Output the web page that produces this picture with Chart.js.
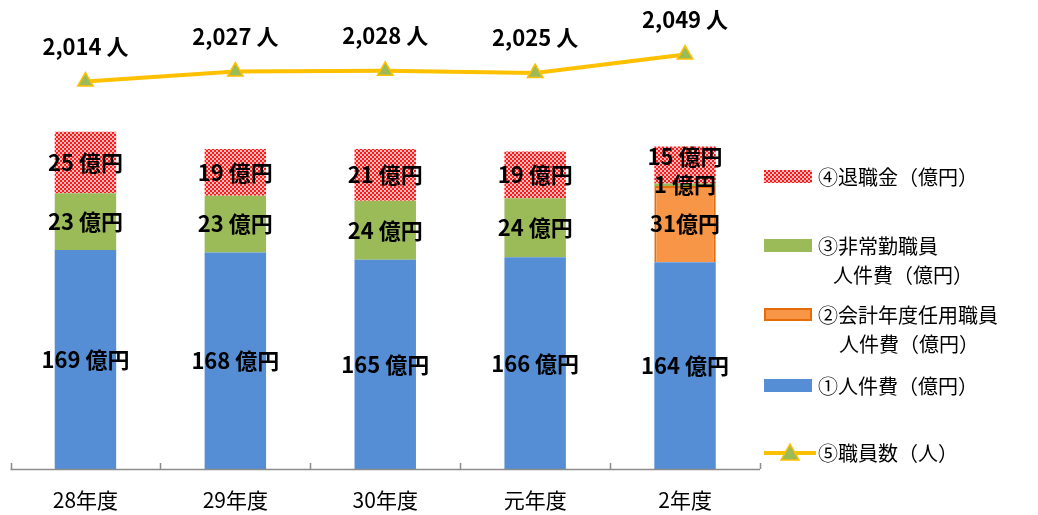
<!DOCTYPE html>
<html lang="ja">
<head>
<meta charset="utf-8">
<script src="https://cdn.jsdelivr.net/npm/chart.js@4/dist/chart.umd.min.js"></script>
<style>
  body { margin: 0; background: #fff; font-family: 'Noto Sans CJK JP', sans-serif; }
  #wrap { position: relative; width: 1038px; height: 515px; }
  #legend { position: absolute; left: 764px; top: 0; font-size: 20px; color: #000; }
  .item { position: absolute; display: flex; align-items: flex-start; white-space: nowrap; }
  .sw { width: 48px; height: 13px; margin-right: 6px; box-sizing: border-box; }
  .txt { line-height: 29px; margin-top: -8px; }
</style>
</head>
<body>
<div id="wrap">
  <canvas id="chart" width="1038" height="515"></canvas>
  <div id="legend"></div>
</div>
<script>
// データ
const years = ['28年度', '29年度', '30年度', '元年度', '2年度'];
const jinkenhi = [169, 168, 165, 166, 164];           // ①人件費(億円)
const kaikeiNendo = [null, null, null, null, 31];     // ②会計年度任用職員人件費(億円)
const hijokin = [23, 23, 24, 24, 1];                  // ③非常勤職員人件費(億円)
const taishokukin = [25, 19, 21, 19, 15];             // ④退職金(億円)
const shokuinsu = [2014, 2027, 2028, 2025, 2049];     // ⑤職員数(人)

const legendNames = {
    taishoku: ['④退職金（億円）'],
    hijokin: ['③非常勤職員', '人件費（億円）'],
    kaikei: ['②会計年度任用職員', '人件費（億円）'],
    jinken: ['①人件費（億円）'],
    shokuin: ['⑤職員数（人）']
};

// 退職金のハッチ模様
function makePattern() {
    const c = document.createElement('canvas');
    c.width = 4; c.height = 4;
    const g = c.getContext('2d');
    g.fillStyle = '#ffffff';
    g.fillRect(0, 0, 4, 4);
    g.fillStyle = '#ff1a1a';
    g.fillRect(0, 0, 2, 2);
    g.fillRect(2, 2, 2, 2);
    g.fillStyle = 'rgba(255,60,60,0.35)';
    g.fillRect(2, 0, 2, 2);
    g.fillRect(0, 2, 2, 2);
    return c;
}
const patCanvas = makePattern();
const ctx = document.getElementById('chart').getContext('2d');
const redPattern = ctx.createPattern(patCanvas, 'repeat');

// 棒・折れ線のラベルを描くプラグイン
const labelPlugin = {
    id: 'labels',
    afterDatasetsDraw(chart) {
        const c = chart.ctx;
        const bottom = chart.chartArea.bottom;
        c.save();
        c.fillStyle = '#000';
        c.textAlign = 'center';
        c.textBaseline = 'middle';
        c.font = "bold 22px 'Noto Sans CJK JP'";
        chart.data.datasets.forEach((ds, di) => {
            const meta = chart.getDatasetMeta(di);
            meta.data.forEach((el, i) => {
                const v = ds.data[i];
                if (v == null) return;
                if (ds.type === 'line') {
                    c.fillText(v.toLocaleString('en-US') + ' 人', el.x, el.y - 35);
                } else {
                    let y = (el.y + Math.min(el.base, bottom)) / 2;
                    if (ds.nudge && ds.nudge[i]) y += ds.nudge[i];
                    const sep = ds.noSpace ? '' : ' ';
                    c.fillText(v + sep + '億円', el.x, y);
                }
            });
        });
        c.restore();
    }
};

// 軸の目盛り（上向き）
const tickPlugin = {
    id: 'ticksUp',
    afterDraw(chart) {
        const area = chart.chartArea, c = chart.ctx;
        c.save();
        c.strokeStyle = '#8c8c8c';
        c.lineWidth = 1.5;
        c.beginPath();
        c.moveTo(area.left, area.bottom + 0.5);
        c.lineTo(area.right, area.bottom + 0.5);
        const step = (area.right - area.left) / years.length;
        for (let i = 0; i <= years.length; i++) {
            const px = Math.round(area.left + step * i) + 0.5;
            c.moveTo(px, area.bottom);
            c.lineTo(px, area.bottom - 6);
        }
        c.stroke();
        c.restore();
    }
};

new Chart(ctx, {
    data: {
        labels: years,
        datasets: [
            {
                type: 'line',
                label: '⑤職員数(人)',
                data: shokuinsu,
                yAxisID: 'y2',
                borderColor: '#ffc000',
                borderWidth: 4,
                pointStyle: 'triangle',
                pointRadius: 9,
                pointBackgroundColor: '#9bbb59',
                pointBorderColor: '#ffc000',
                pointBorderWidth: 1.5,
                tension: 0,
                order: 0
            },
            {
                type: 'bar',
                label: '①人件費(億円)',
                data: jinkenhi,
                backgroundColor: '#558ed5',
                stack: 's',
                order: 1
            },
            {
                type: 'bar',
                label: '②会計年度任用職員人件費(億円)',
                data: kaikeiNendo,
                backgroundColor: '#f79646',
                borderColor: '#e46c0a',
                borderWidth: 2,
                noSpace: true,
                stack: 's',
                order: 1
            },
            {
                type: 'bar',
                label: '③非常勤職員人件費(億円)',
                data: hijokin,
                backgroundColor: '#9bbb59',
                stack: 's',
                order: 1
            },
            {
                type: 'bar',
                label: '④退職金(億円)',
                data: taishokukin,
                backgroundColor: redPattern,
                nudge: [0, 0, 0, 0, -8],
                stack: 's',
                order: 1
            }
        ]
    },
    options: {
        responsive: false,
        animation: false,
        layout: { padding: { top: 26, left: 10, right: 278, bottom: 0 } },
        datasets: { bar: { barPercentage: 0.41, categoryPercentage: 1 } },
        plugins: {
            legend: { display: false },
            tooltip: { enabled: false }
        },
        scales: {
            x: {
                stacked: true,
                grid: { display: false, drawTicks: false },
                border: { display: false },
                afterFit(scale) { scale.height = 46; },
                ticks: {
                    color: '#000',
                    padding: 18,
                    font: { size: 21, family: "'Noto Sans CJK JP'" }
                }
            },
            y: {
                stacked: true,
                display: false,
                min: 80,
                max: 260
            },
            y2: {
                display: false,
                position: 'right',
                min: 1512,
                max: 2086
            }
        }
    },
    plugins: [labelPlugin, tickPlugin]
});

// 凡例（HTML）
const legendEl = document.getElementById('legend');
function addItem(top, swatchStyle, lines, indent) {
    const item = document.createElement('div');
    item.className = 'item';
    item.style.top = top + 'px';
    const sw = document.createElement('div');
    sw.className = 'sw';
    Object.assign(sw.style, swatchStyle);
    const txt = document.createElement('div');
    txt.className = 'txt';
    txt.innerHTML = lines.map((l, i) => i === 0 ? l : '<span style="padding-left:' + indent + 'px">' + l + '</span>').join('<br>');
    item.appendChild(sw);
    item.appendChild(txt);
    legendEl.appendChild(item);
}
addItem(170, { backgroundImage: 'url(' + patCanvas.toDataURL() + ')' }, legendNames.taishoku, 0);
addItem(239, { background: '#9bbb59' }, legendNames.hijokin, 15);
addItem(308, { background: '#f79646', border: '2px solid #e46c0a' }, legendNames.kaikei, 21);
addItem(379, { background: '#558ed5' }, legendNames.jinken, 0);

// 職員数の凡例（線＋三角）
const lineItem = document.createElement('div');
lineItem.className = 'item';
lineItem.style.top = '440px';
const lc = document.createElement('canvas');
lc.width = 52; lc.height = 26;
lc.style.marginRight = '2px';
const lg = lc.getContext('2d');
lg.strokeStyle = '#ffc000'; lg.lineWidth = 4;
lg.beginPath(); lg.moveTo(0, 13); lg.lineTo(52, 13); lg.stroke();
lg.fillStyle = '#9bbb59'; lg.strokeStyle = '#ffc000'; lg.lineWidth = 1.5;
lg.beginPath(); lg.moveTo(26, 4); lg.lineTo(35, 20); lg.lineTo(17, 20); lg.closePath(); lg.fill(); lg.stroke();
const lt = document.createElement('div');
lt.style.lineHeight = '26px';
lt.textContent = legendNames.shokuin[0];
lineItem.appendChild(lc);
lineItem.appendChild(lt);
legendEl.appendChild(lineItem);
</script>
</body>
</html>
